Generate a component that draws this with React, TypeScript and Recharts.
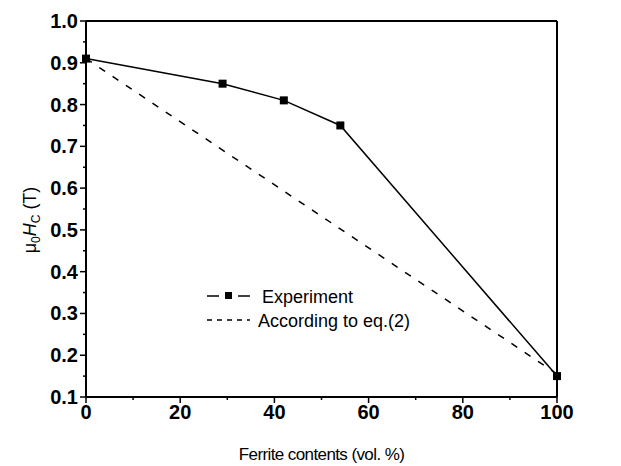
import React from 'react';
import { LineChart, Line, XAxis, YAxis, ReferenceLine } from 'recharts';

const experimentX = [0, 29, 42, 54, 100];
const experimentY = [0.91, 0.85, 0.81, 0.75, 0.15];
const equationX = [0, 100];
const equationY = [0.91, 0.155];

const xTicks = [0, 10, 20, 30, 40, 50, 60, 70, 80, 90, 100];
const xLabels = ['0', '20', '40', '60', '80', '100'];
const yTicks = [0.1, 0.15, 0.2, 0.25, 0.3, 0.35, 0.4, 0.45, 0.5, 0.55, 0.6, 0.65, 0.7, 0.75, 0.8, 0.85, 0.9, 0.95, 1.0];

const experimentData = experimentX.map((x, i) => ({ x, y: experimentY[i] }));
const equationData = equationX.map((x, i) => ({ x, y: equationY[i] }));

if (typeof document !== 'undefined') document.body.style.margin = '0';

const FONT = '"Liberation Sans", Arial, sans-serif';

const XTick = (props: any) => {
  const { x, y, payload } = props;
  const label = payload.value.toFixed(0);
  const major = xLabels.includes(label);
  return (
    <g>
      <line x1={x} x2={x} y1={y} y2={y + (major ? 6 : 3)} stroke="#000" strokeWidth={1.5} />
      {major && (
        <text x={x} y={y + 22} textAnchor="middle" fontSize={20} fontWeight="bold" fontFamily={FONT} fill="#000">
          {label}
        </text>
      )}
    </g>
  );
};

const YTick = (props: any) => {
  const { x, y, payload } = props;
  const label = payload.value.toFixed(1);
  const major = Math.abs(payload.value * 10 - Math.round(payload.value * 10)) < 1e-6;
  return (
    <g>
      <line x1={x} x2={x - (major ? 6 : 3)} y1={y} y2={y} stroke="#000" strokeWidth={1.5} />
      {major && (
        <text x={x - 8} y={y + 7} textAnchor="end" fontSize={20} fontWeight="bold" fontFamily={FONT} fill="#000">
          {label}
        </text>
      )}
    </g>
  );
};

const SquareDot = (props: any) => {
  const { cx, cy } = props;
  if (cx == null || cy == null) return null;
  return <rect x={cx - 4} y={cy - 4} width={8} height={8} fill="#000" />;
};

const YLabel = () => (
  <text
    transform="translate(36,220) rotate(-90)"
    textAnchor="middle"
    fontSize={18}
    fontFamily={FONT}
    fill="#000"
  >
    <tspan>μ</tspan>
    <tspan fontSize={12} dy={4}>0</tspan>
    <tspan fontStyle="italic" dy={-4}>H</tspan>
    <tspan fontSize={12} dy={4}>C</tspan>
    <tspan dy={-4}> (T)</tspan>
  </text>
);

const ChartLegend = () => (
  <svg
    width={230}
    height={50}
    style={{ position: 'absolute', left: 205, top: 284, overflow: 'visible' }}
  >
    <line x1={2} x2={14} y1={12} y2={12} stroke="#000" strokeWidth={1.5} />
    <rect x={20} y={8} width={7} height={7} fill="#000" />
    <line x1={33} x2={45} y1={12} y2={12} stroke="#000" strokeWidth={1.5} />
    <text x={57} y={19} fontSize={18} fontFamily={FONT} fill="#000">Experiment</text>
    <line x1={2} x2={45} y1={36} y2={36} stroke="#000" strokeWidth={1.5} strokeDasharray="5 5" />
    <text x={53} y={43} fontSize={18} fontFamily={FONT} fill="#000">According to eq.(2)</text>
  </svg>
);

export default function App() {
  return (
    <div style={{ position: 'relative', width: 621, height: 466 }}>
      <LineChart width={621} height={466} margin={{ top: 21, right: 64, bottom: 0, left: 0 }}>
        <XAxis
          dataKey="x"
          type="number"
          domain={[0, 100]}
          ticks={xTicks}
          interval={0}
          tick={<XTick />}
          tickLine={false}
          tickSize={0}
          tickMargin={0}
          height={69}
          axisLine={{ stroke: '#000', strokeWidth: 2 }}
          allowDuplicatedCategory={false}
          label={{
            value: 'Ferrite contents (vol. %)',
            position: 'insideBottom',
            offset: 6,
            fontSize: 17,
            fontFamily: FONT,
            fill: '#000',
            letterSpacing: -0.6,
          }}
        />
        <YAxis
          type="number"
          domain={[0.1, 1.0]}
          ticks={yTicks}
          interval={0}
          tick={<YTick />}
          tickLine={false}
          tickSize={0}
          tickMargin={0}
          width={86}
          axisLine={{ stroke: '#000', strokeWidth: 2 }}
          label={<YLabel />}
        />
        <ReferenceLine y={1.0} stroke="#000" strokeWidth={2} />
        <ReferenceLine x={100} stroke="#000" strokeWidth={2} />
        <Line
          data={equationData}
          dataKey="y"
          stroke="#000"
          strokeWidth={1.5}
          strokeDasharray="7 9"
          dot={false}
          isAnimationActive={false}
        />
        <Line
          data={experimentData}
          dataKey="y"
          stroke="#000"
          strokeWidth={1.5}
          dot={<SquareDot />}
          isAnimationActive={false}
        />
      </LineChart>
      <ChartLegend />
    </div>
  );
}
